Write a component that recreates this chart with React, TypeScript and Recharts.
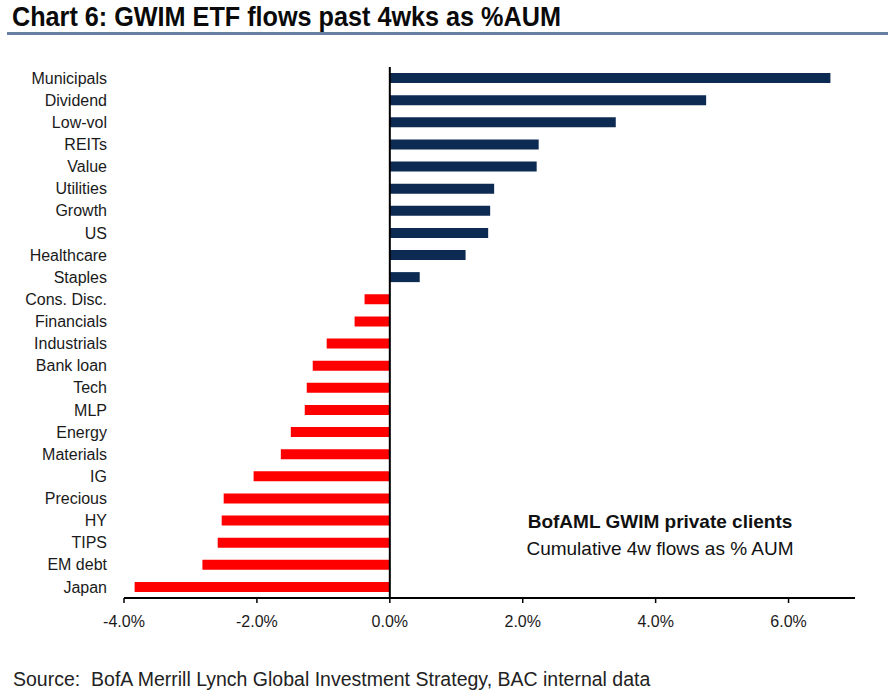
import { BarChart, Bar, XAxis, YAxis, Cell, ReferenceLine } from 'recharts';

// GWIM ETF flows, past 4 weeks, % of AUM
const categories = [
  'Municipals', 'Dividend', 'Low-vol', 'REITs', 'Value', 'Utilities', 'Growth', 'US',
  'Healthcare', 'Staples', 'Cons. Disc.', 'Financials', 'Industrials', 'Bank loan', 'Tech',
  'MLP', 'Energy', 'Materials', 'IG', 'Precious', 'HY', 'TIPS', 'EM debt', 'Japan',
];
const flows = [
  6.63, 4.76, 3.4, 2.24, 2.21, 1.57, 1.51, 1.48,
  1.14, 0.45, -0.38, -0.53, -0.95, -1.16, -1.25,
  -1.28, -1.49, -1.64, -2.05, -2.5, -2.53, -2.59, -2.82, -3.84,
];
const xTicks = [-4, -2, 0, 2, 4, 6];

const rows = categories.map((name, i) => ({ name, value: flows[i] }));

const NAVY = '#0c2a52';
const RED = '#ff0000';
const sans = "'Liberation Sans', Arial, sans-serif";

export default function App() {
  return (
    <div style={{ position: 'absolute', left: 0, top: 0, width: 888, height: 700, background: '#fff', fontFamily: sans }}>
      {/* no narrow font installed, so squeeze the heading horizontally */}
      <div
        style={{
          position: 'absolute', left: 12, top: 3, fontWeight: 'bold',
          fontSize: 28, lineHeight: '28px', color: '#0a0a0a', whiteSpace: 'nowrap',
          transform: 'scaleX(0.9)', transformOrigin: 'left top',
        }}
      >
        Chart 6: GWIM ETF flows past 4wks as %AUM
      </div>
      <div style={{ position: 'absolute', left: 7, top: 32, width: 881, height: 3, background: '#6a80a3' }} />

      <div style={{ position: 'absolute', left: 0, top: 0 }}>
        <BarChart
          width={888}
          height={700}
          data={rows}
          layout="vertical"
          margin={{ top: 67, right: 33, left: 0, bottom: 72 }}
          barCategoryGap={0}
        >
          <XAxis
            type="number"
            domain={[-4, 7]}
            ticks={xTicks}
            allowDataOverflow
            tickFormatter={(v: number) => v.toFixed(1) + '%'}
            axisLine={{ stroke: '#000', strokeWidth: 2 }}
            tickLine={{ stroke: '#000', strokeWidth: 1.5 }}
            tickSize={5}
            tickMargin={13}
            height={30}
            tick={{ fill: '#1a1a1a', fontSize: 16, fontFamily: sans }}
          />
          <YAxis
            type="category"
            dataKey="name"
            width={124}
            axisLine={false}
            tickLine={false}
            tickMargin={11}
            interval={0}
            tick={{ fill: '#1a1a1a', fontSize: 16, fontFamily: sans }}
          />
          <Bar dataKey="value" barSize={10} isAnimationActive={false}>
            {rows.map((r) => (
              <Cell key={r.name} fill={r.value >= 0 ? NAVY : RED} />
            ))}
          </Bar>
          <ReferenceLine x={0} stroke="#000" strokeWidth={2} />
        </BarChart>
      </div>

      <div
        style={{
          position: 'absolute', left: 500, top: 508, width: 320, textAlign: 'center',
          fontSize: 19, lineHeight: '27px', color: '#111',
        }}
      >
        <div style={{ fontWeight: 'bold' }}>BofAML GWIM private clients</div>
        <div>Cumulative 4w flows as % AUM</div>
      </div>

      <div
        style={{
          position: 'absolute', left: 13, top: 669, fontSize: 20,
          lineHeight: '20px', color: '#222', whiteSpace: 'nowrap',
          transform: 'scaleX(0.975)', transformOrigin: 'left top',
        }}
      >
        Source:&nbsp; BofA Merrill Lynch Global Investment Strategy, BAC internal data
      </div>
    </div>
  );
}
